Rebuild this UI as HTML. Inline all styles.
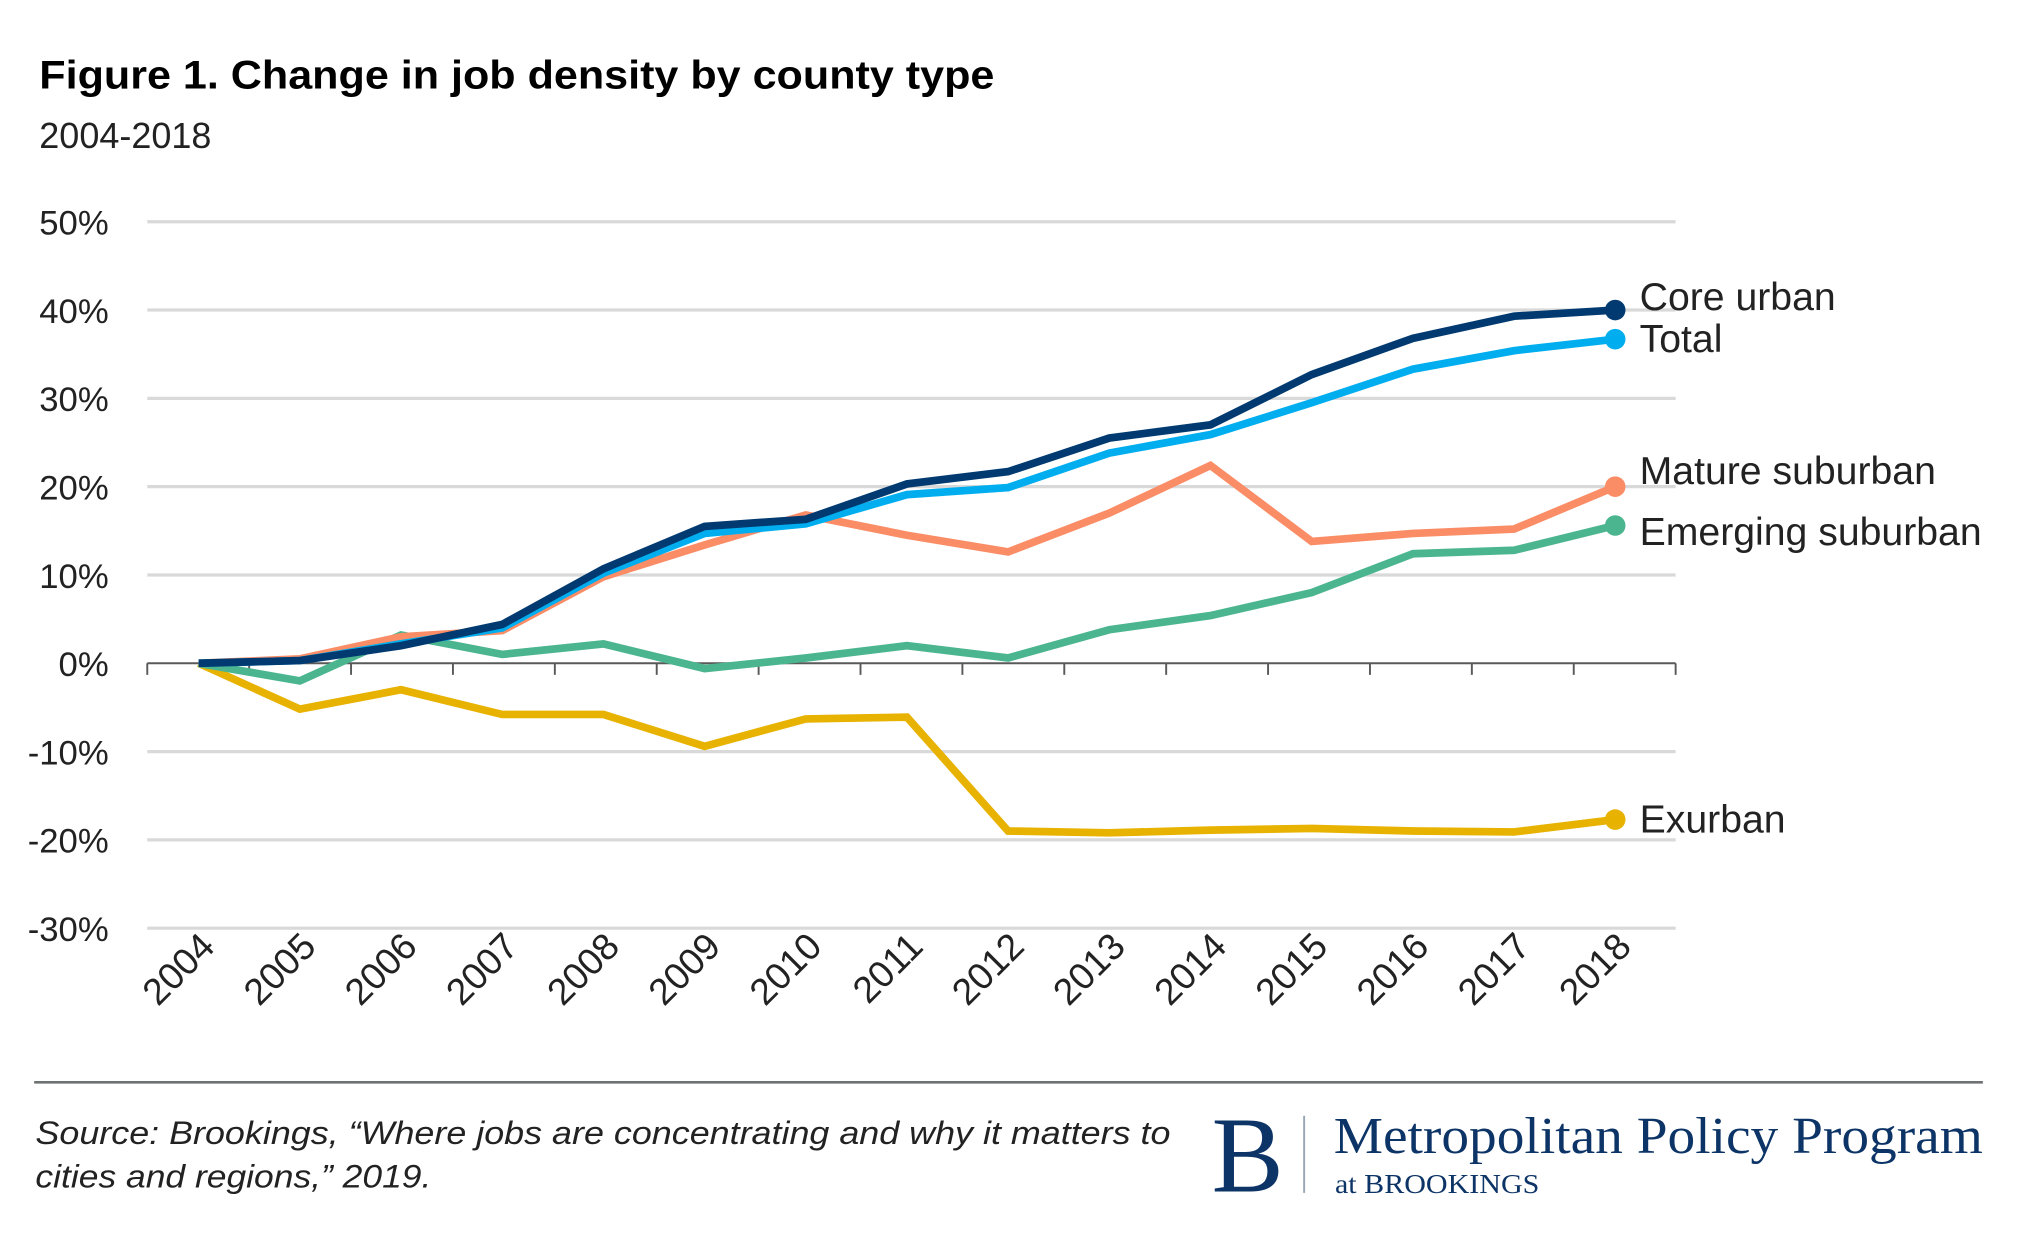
<!DOCTYPE html>
<html><head><meta charset="utf-8"><style>
html,body{margin:0;padding:0;background:#fff;width:2017px;height:1234px;overflow:hidden}
svg{display:block}
</style></head><body>
<svg id="chart" width="2017" height="1234" viewBox="0 0 1568 960" font-family="'Liberation Sans Narrow','Liberation Sans',sans-serif">
<text x="30" y="69" font-size="31" font-weight="bold" fill="#000" textLength="743" lengthAdjust="spacingAndGlyphs">Figure 1. Change in job density by county type</text>
<text x="30" y="115" font-size="28" fill="#222">2004-2018</text>
<g id="grid"></g>
<g id="yticks"></g>
<g id="xaxis"></g>
<g id="series"></g>
<line x1="26" y1="842" x2="1542" y2="842" stroke="#6d7373" stroke-width="2"/>
<text x="27" y="890" font-size="25" font-style="italic" fill="#222" textLength="883" lengthAdjust="spacingAndGlyphs">Source: Brookings, “Where jobs are concentrating and why it matters to</text>
<text x="27" y="924" font-size="25" font-style="italic" fill="#222" textLength="308" lengthAdjust="spacingAndGlyphs">cities and regions,” 2019.</text>
<text x="942" y="927" font-size="84" font-family="'Liberation Serif',serif" fill="#0d3466">B</text>
<line x1="1014" y1="868" x2="1014" y2="928" stroke="#9aa6b5" stroke-width="1.5"/>
<text x="1037" y="897" font-size="40" font-family="'Liberation Serif',serif" fill="#0d3466" textLength="505" lengthAdjust="spacingAndGlyphs">Metropolitan Policy Program</text>
<text x="1038" y="928" font-size="21" font-family="'Liberation Serif',serif" fill="#0d3466" textLength="159" lengthAdjust="spacingAndGlyphs">at BROOKINGS</text>
</svg>
<script>
const years = ['2004','2005','2006','2007','2008','2009','2010','2011','2012','2013','2014','2015','2016','2017','2018'];
const yTicks = [50,40,30,20,10,0,-10,-20,-30];
const seriesNames = ['Exurban','Emerging suburban','Mature suburban','Total','Core urban'];
const exurban = [0,-5.2,-3,-5.8,-5.8,-9.4,-6.3,-6.1,-19,-19.2,-18.9,-18.7,-19,-19.1,-17.7];
const emerging = [0,-2,3.2,1,2.2,-0.6,0.6,2,0.6,3.8,5.4,8,12.4,12.8,15.6];
const mature = [0,0.5,3,3.7,9.8,13.4,16.8,14.5,12.6,17,22.4,13.8,14.7,15.2,20];
const total = [0,0.3,2.2,4,10.2,14.7,15.8,19.1,19.9,23.8,25.9,29.5,33.3,35.4,36.7];
const coreUrban = [0,0.3,2,4.4,10.7,15.5,16.3,20.3,21.7,25.5,27,32.7,36.8,39.3,40];
const seriesValues = [exurban, emerging, mature, total, coreUrban];
const seriesColors = ['#e8b200','#4bb58f','#fa8c66','#00aeef','#003a70'];
const labelDy = [0,5,-12,0,-10];

const NS='http://www.w3.org/2000/svg';
const X0=114, X1=1303, Y0=516, PER=6.87;
const xs = i => 154 + (1256-154)/(years.length-1)*i;
const ys = v => Y0 - v*PER;
function mk(tag,attrs,parent){const e=document.createElementNS(NS,tag);for(const k in attrs)e.setAttribute(k,attrs[k]);parent.appendChild(e);return e;}

const grid=document.getElementById('grid'), yt=document.getElementById('yticks');
yTicks.forEach(t=>{
  if(t!==0){const l=mk('line',{x1:X0,x2:X1,y1:ys(t),y2:ys(t),stroke:'#d9d9d9','stroke-width':2.5},grid);
  
  }
  const tx=mk('text',{x:84,y:ys(t)+10,'font-size':27,'text-anchor':'end',fill:'#222'},yt);
  tx.textContent=t+'%';
  
  
});
const xa=document.getElementById('xaxis');
const ax=mk('line',{x1:X0,x2:X1,y1:Y0,y2:Y0,stroke:'#595959','stroke-width':1.5},xa);


const step=(X1-X0)/years.length;
for(let k=0;k<=years.length;k++){
  const tk=mk('line',{x1:X0+step*k,x2:X0+step*k,y1:Y0,y2:Y0+9,stroke:'#595959','stroke-width':1.5},xa);
  
  
}
years.forEach((y,i)=>{
  const x=xs(i)+14, yy=738;
  const tx=mk('text',{x:x,y:yy,'font-size':29,'text-anchor':'end',fill:'#222',transform:`rotate(-45 ${x} ${yy})`},xa);
  tx.textContent=y;
  
  
});
const sg=document.getElementById('series');
seriesValues.forEach((vals,s)=>{
  const pts=vals.map((v,i)=>xs(i).toFixed(1)+','+ys(v).toFixed(1)).join(' ');
  const pl=mk('polyline',{points:pts,fill:'none',stroke:seriesColors[s],'stroke-width':6,'stroke-linejoin':'miter'},sg);
  
  
  const last=vals.length-1;
  const c=mk('circle',{cx:xs(last),cy:ys(vals[last]),r:8,fill:seriesColors[s]},sg);
  
  
  const lb=mk('text',{x:xs(last)+19,y:ys(vals[last])+10+labelDy[s],'font-size':30.5,fill:'#222'},sg);
  lb.textContent=seriesNames[s];
  
  
});
</script>
</body></html>
